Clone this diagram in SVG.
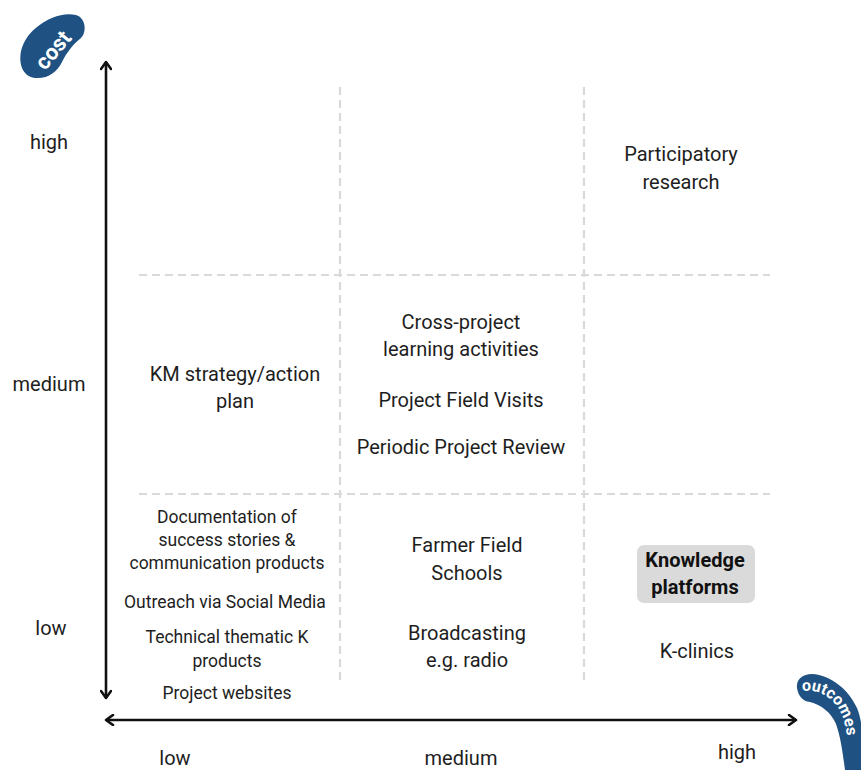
<svg xmlns="http://www.w3.org/2000/svg" width="861" height="770" viewBox="0 0 861 770">
  <defs>
    <marker id="arr" viewBox="0 0 12 12" refX="9" refY="6" markerWidth="12" markerHeight="12" markerUnits="userSpaceOnUse" orient="auto-start-reverse">
      <path d="M2,1 L9,6 L2,11" fill="none" stroke="#111" stroke-width="2.6" stroke-linecap="round" stroke-linejoin="round"/>
    </marker>
    <path id="outArc" d="M801,691 C825,688 842,704 846,730 C848,742 848,752 849,766"/>
  </defs>
  <style>
    text { font-family: Roboto, "Liberation Sans", Arial, sans-serif; fill: #1e1e1e; }
    .t { font-size: 20px; text-anchor: middle; }
    .s { font-size: 17.5px; text-anchor: middle; }
    .b { font-size: 20px; font-weight: bold; text-anchor: middle; fill: #111; }
    .axis { stroke: #111; stroke-width: 2.6; fill: none; }
    .grid { stroke: #d9d9d9; stroke-width: 2.2; stroke-dasharray: 8 5; fill: none; }
    .badge { fill: #1f5282; }
    .badgeText { font-weight: bold; fill: #fff; }
  </style>
  <rect width="861" height="770" fill="#fff"/>

  <g id="grid">
    <line class="grid" x1="340" y1="87" x2="340" y2="685"/>
    <line class="grid" x1="584" y1="87" x2="584" y2="685"/>
    <line class="grid" x1="139" y1="275" x2="770" y2="275"/>
    <line class="grid" x1="139" y1="494" x2="770" y2="494"/>
  </g>

  <g id="connectors">
    <line class="axis" x1="106" y1="62" x2="106" y2="698" marker-start="url(#arr)" marker-end="url(#arr)"/>
    <line class="axis" x1="106" y1="720" x2="796" y2="720" marker-start="url(#arr)" marker-end="url(#arr)"/>
  </g>

  <g id="badge-cost">
    <path class="badge" d="M22,68 C17,53 24,37 37,27 C49,17 64,12 76,15 C86,18 87,32 81,38 C72,45 66,54 62,62 C57,72 48,79 35,78 C28,77 24,73 22,68 Z"/>
    <text class="badgeText" x="0" y="0" font-size="22" text-anchor="middle" transform="translate(53,50) rotate(-50)" dy="7.5">cost</text>
  </g>

  <g id="badge-outcomes">
    <path class="badge" d="M797,688 C796,680 802,674 812,674 C831,675 849,690 857,708 C863,722 864,745 861,770 L845,770 C843,755 841,738 836,724 C831,712 821,705 810,702 C802,701 798,695 797,688 Z"/>
    <text class="badgeText" font-size="16"><textPath href="#outArc" startOffset="1">outcomes</textPath></text>
  </g>

  <g id="labels-cost">
    <text class="t" x="49" y="149">high</text>
    <text class="t" x="49" y="391">medium</text>
    <text class="t" x="51" y="635">low</text>
  </g>

  <g id="labels-outcomes">
    <text class="t" x="175" y="765">low</text>
    <text class="t" x="461" y="765">medium</text>
    <text class="t" x="737" y="759">high</text>
  </g>

  <g id="node-participatory">
    <text class="t" x="681" y="161">Participatory</text>
    <text class="t" x="681" y="189">research</text>
  </g>

  <g id="node-km-strategy">
    <text class="t" x="235" y="381">KM strategy/action</text>
    <text class="t" x="235" y="408">plan</text>
  </g>

  <g id="node-cross-project">
    <text class="t" x="461" y="329">Cross-project</text>
    <text class="t" x="461" y="356">learning activities</text>
  </g>

  <g id="node-field-visits">
    <text class="t" x="461" y="407">Project Field Visits</text>
  </g>

  <g id="node-project-review">
    <text class="t" x="461" y="454">Periodic Project Review</text>
  </g>

  <g id="node-documentation">
    <text class="s" x="227" y="523">Documentation of</text>
    <text class="s" x="227" y="546">success stories &amp;</text>
    <text class="s" x="227" y="569">communication products</text>
  </g>

  <g id="node-social-media">
    <text class="s" x="225" y="608">Outreach via Social Media</text>
  </g>

  <g id="node-technical">
    <text class="s" x="227" y="643">Technical thematic K</text>
    <text class="s" x="227" y="667">products</text>
  </g>

  <g id="node-websites">
    <text class="s" x="227" y="699">Project websites</text>
  </g>

  <g id="node-ffs">
    <text class="t" x="467" y="552">Farmer Field</text>
    <text class="t" x="467" y="580">Schools</text>
  </g>

  <g id="node-broadcasting">
    <text class="t" x="467" y="640">Broadcasting</text>
    <text class="t" x="467" y="667">e.g. radio</text>
  </g>

  <g id="node-knowledge-platforms">
    <rect x="637" y="545" width="118" height="58" rx="7" fill="#dadada"/>
    <text class="b" x="695" y="567">Knowledge</text>
    <text class="b" x="695" y="594">platforms</text>
  </g>

  <g id="node-k-clinics">
    <text class="t" x="697" y="658">K-clinics</text>
  </g>
</svg>
